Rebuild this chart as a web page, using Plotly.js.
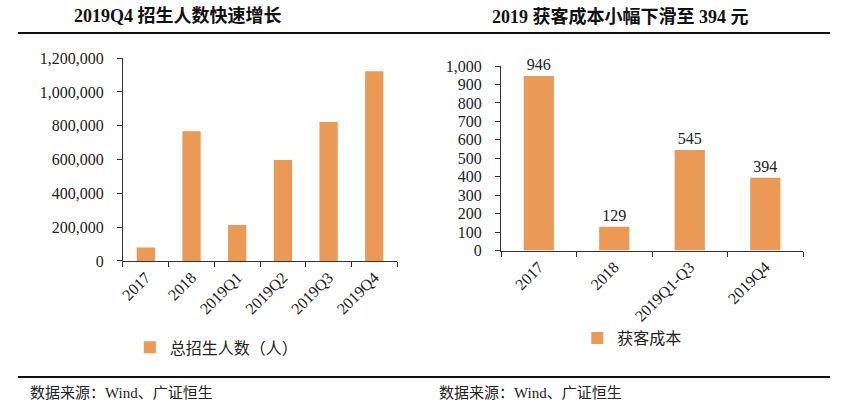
<!DOCTYPE html>
<html>
<head>
<meta charset="utf-8">
<script src="https://cdn.plot.ly/plotly-3.0.1.min.js"></script>
<style>html,body{margin:0;padding:0;background:#fff;}#chart{width:854px;height:404px;}</style>
</head>
<body>
<div id="chart"></div>
<script>
const leftCategories = ['2017', '2018', '2019Q1', '2019Q2', '2019Q3', '2019Q4'];
const leftValues = [80000, 768000, 213000, 597000, 822000, 1123000];
const leftSeriesName = '总招生人数（人）';
const leftTitle = '2019Q4 招生人数快速增长';

const rightCategories = ['2017', '2018', '2019Q1-Q3', '2019Q4'];
const rightValues = [946, 129, 545, 394];
const rightSeriesName = '获客成本';
const rightTitle = '2019 获客成本小幅下滑至 394 元';

const sourceText = '数据来源：Wind、广证恒生';

const barColor = '#EA9A56';
const serif = '"Liberation Serif", "Times New Roman", "Noto Sans CJK SC", serif';
const cjk = '"Liberation Serif", "Noto Sans CJK SC", serif';
const axisColor = '#333';

const traces = [
  {type: 'bar', x: leftCategories, y: leftValues, name: leftSeriesName,
   marker: {color: barColor}, xaxis: 'x', yaxis: 'y', legend: 'legend', hoverinfo: 'none'},
  {type: 'bar', x: rightCategories, y: rightValues, name: rightSeriesName,
   marker: {color: barColor}, xaxis: 'x2', yaxis: 'y2', legend: 'legend2',
   text: rightValues.map(String), textposition: 'outside', cliponaxis: false,
   textfont: {family: serif, size: 16, color: '#222'}, hoverinfo: 'none'}
];

const xCommon = {
  type: 'category',
  showline: true, linecolor: axisColor, linewidth: 1, ticks: 'outside', ticklen: 5,
  tickcolor: axisColor, tickson: 'boundaries', tickangle: -45, showgrid: false,
  tickfont: {family: serif, size: 16, color: '#222'}, fixedrange: true, zeroline: false
};
const yCommon = {
  showline: true, linecolor: axisColor, linewidth: 1, ticks: 'outside', ticklen: 5,
  tickcolor: axisColor, showgrid: false, zeroline: false, tickformat: ',d',
  ticklabelstandoff: 10,
  tickfont: {family: serif, size: 16, color: '#222'}, fixedrange: true
};

const layout = {
  width: 854, height: 404,
  margin: {l: 0, r: 0, t: 0, b: 0},
  paper_bgcolor: '#fff', plot_bgcolor: '#fff',
  bargap: 0.6,
  showlegend: true,
  xaxis: Object.assign({}, xCommon, {domain: [0.144, 0.465], anchor: 'y'}),
  yaxis: Object.assign({}, yCommon, {domain: [0.354, 0.856], range: [0, 1200000], dtick: 200000, anchor: 'x'}),
  xaxis2: Object.assign({}, xCommon, {domain: [0.5867, 0.9403], anchor: 'y2'}),
  yaxis2: Object.assign({}, yCommon, {domain: [0.3797, 0.8366], range: [0, 1000], dtick: 100, anchor: 'x2'}),
  legend: {x: 0.152, y: 0.14, xanchor: 'left', yanchor: 'middle', orientation: 'h',
           itemwidth: 30,
           font: {family: cjk, size: 16, color: '#222'}, bgcolor: 'rgba(0,0,0,0)'},
  legend2: {x: 0.676, y: 0.163, xanchor: 'left', yanchor: 'middle', orientation: 'h',
           itemwidth: 30,
           font: {family: cjk, size: 16, color: '#222'}, bgcolor: 'rgba(0,0,0,0)'},
  annotations: [
    {text: '<b>' + leftTitle + '</b>', xref: 'paper', yref: 'paper', x: 0.209, y: 1 - 16/404,
     xanchor: 'center', yanchor: 'middle', showarrow: false, font: {family: cjk, size: 18, color: '#111'}},
    {text: '<b>' + rightTitle + '</b>', xref: 'paper', yref: 'paper', x: 0.726, y: 1 - 16/404,
     xanchor: 'center', yanchor: 'middle', showarrow: false, font: {family: cjk, size: 18, color: '#111'}},
    {text: sourceText, xref: 'paper', yref: 'paper', x: 28/854, y: 1 - 393/404,
     xanchor: 'left', yanchor: 'middle', showarrow: false, font: {family: cjk, size: 15, color: '#222'}},
    {text: sourceText, xref: 'paper', yref: 'paper', x: 437/854, y: 1 - 393/404,
     xanchor: 'left', yanchor: 'middle', showarrow: false, font: {family: cjk, size: 15, color: '#222'}}
  ],
  shapes: [
    {type: 'line', xref: 'paper', yref: 'paper', x0: 18/854, x1: 427/854, y0: 1 - 33/404, y1: 1 - 33/404,
     line: {color: '#111', width: 2}},
    {type: 'line', xref: 'paper', yref: 'paper', x0: 427/854, x1: 830/854, y0: 1 - 33/404, y1: 1 - 33/404,
     line: {color: '#111', width: 2}},
    {type: 'line', xref: 'paper', yref: 'paper', x0: 18/854, x1: 830/854, y0: 1 - 377/404, y1: 1 - 377/404,
     line: {color: '#111', width: 2}}
  ]
};

Plotly.newPlot('chart', traces, layout, {displayModeBar: false, staticPlot: true});
</script>
</body>
</html>
